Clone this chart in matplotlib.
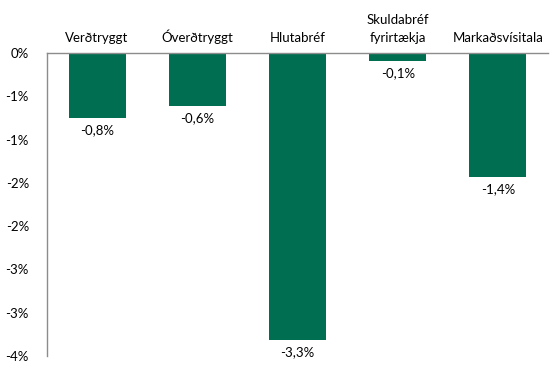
import matplotlib
matplotlib.use('Agg')
from matplotlib import pyplot as plt
import numpy as np

categories = ['Verðtryggt', 'Óverðtryggt', 'Hlutabréf', 'Skuldabréf\nfyrirtækja', 'Markaðsvísitala']
values = [-0.75, -0.61, -3.32, -0.09, -1.43]
value_labels = ['-0,8%', '-0,6%', '-3,3%', '-0,1%', '-1,4%']
ytick_values = [0, -0.5, -1.0, -1.5, -2.0, -2.5, -3.0, -3.5]
ytick_labels = ['0%', '-1%', '-1%', '-2%', '-2%', '-3%', '-3%', '-4%']

plt.rcParams['font.family'] = ['Lato', 'DejaVu Sans']

fig = plt.figure(figsize=(5.51, 3.71), dpi=100)
ax = fig.add_axes([47 / 551, 1 - 356 / 371, 501 / 551, 303 / 371])

x = np.arange(len(categories))
ax.bar(x, values, width=0.57, color='#006e51')

for xi, v, lab in zip(x, values, value_labels):
    ax.text(xi, v - 0.07, lab, ha='center', va='top', fontsize=9.5)

for xi, cat in zip(x, categories):
    ax.text(xi, 0.1, cat, ha='center', va='bottom', fontsize=9.5, linespacing=1.6)

ax.set_xlim(-0.5, len(categories) - 0.5)
ax.set_ylim(-3.5, 0)
ax.set_yticks(ytick_values)
ax.set_yticklabels(ytick_labels, fontsize=9.5)
ax.set_xticks([])
ax.tick_params(axis='y', length=0, pad=13)

for side in ['bottom', 'right']:
    ax.spines[side].set_visible(False)
for side in ['top', 'left']:
    ax.spines[side].set_color('#8c8c8c')
    ax.spines[side].set_linewidth(1)

fig.savefig('out.png', dpi=100)
